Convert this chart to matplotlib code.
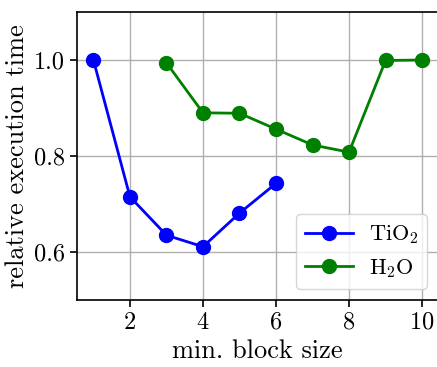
import matplotlib
matplotlib.use("Agg")
import matplotlib.pyplot as plt

plt.rcParams['font.family'] = 'serif'
plt.rcParams['font.serif'] = ['cmr10']
plt.rcParams['mathtext.fontset'] = 'cm'
plt.rcParams['axes.formatter.use_mathtext'] = True

tio2_x = [1, 2, 3, 4, 5, 6]
tio2_y = [1.0, 0.715, 0.635, 0.611, 0.681, 0.743]
h2o_x = [3, 4, 5, 6, 7, 8, 9, 10]
h2o_y = [0.994, 0.890, 0.889, 0.856, 0.823, 0.808, 0.999, 1.0]

fig = plt.figure(figsize=(4.37, 3.67), dpi=100)
ax = fig.add_axes([77/437, 1 - 300/367, (438.5 - 77)/437, (300 - 12)/367])
ax.plot(tio2_x, tio2_y, '-o', color='blue', lw=2, ms=10, label='TiO$_2$')
ax.plot(h2o_x, h2o_y, '-o', color='green', lw=2, ms=10, label='H$_2$O')
ax.set_xlim(0.55, 10.45)
ax.set_ylim(0.5, 1.1)
ax.set_xticks([2, 4, 6, 8, 10])
ax.set_yticks([0.6, 0.8, 1.0])
ax.set_yticklabels(['0.6', '0.8', '1.0'])
ax.grid(True, color='#b0b0b0', lw=1)
ax.set_axisbelow(True)
ax.tick_params(labelsize=17.5, length=5, width=1.2)
for s in ax.spines.values():
    s.set_linewidth(1.2)
ax.set_xlabel('min. block size', fontsize=19)
ax.set_ylabel('relative execution time', fontsize=19)
ax.legend(loc='lower right', fontsize=16, handlelength=2.2, handletextpad=0.7)
fig.savefig('out.png', dpi=100)
